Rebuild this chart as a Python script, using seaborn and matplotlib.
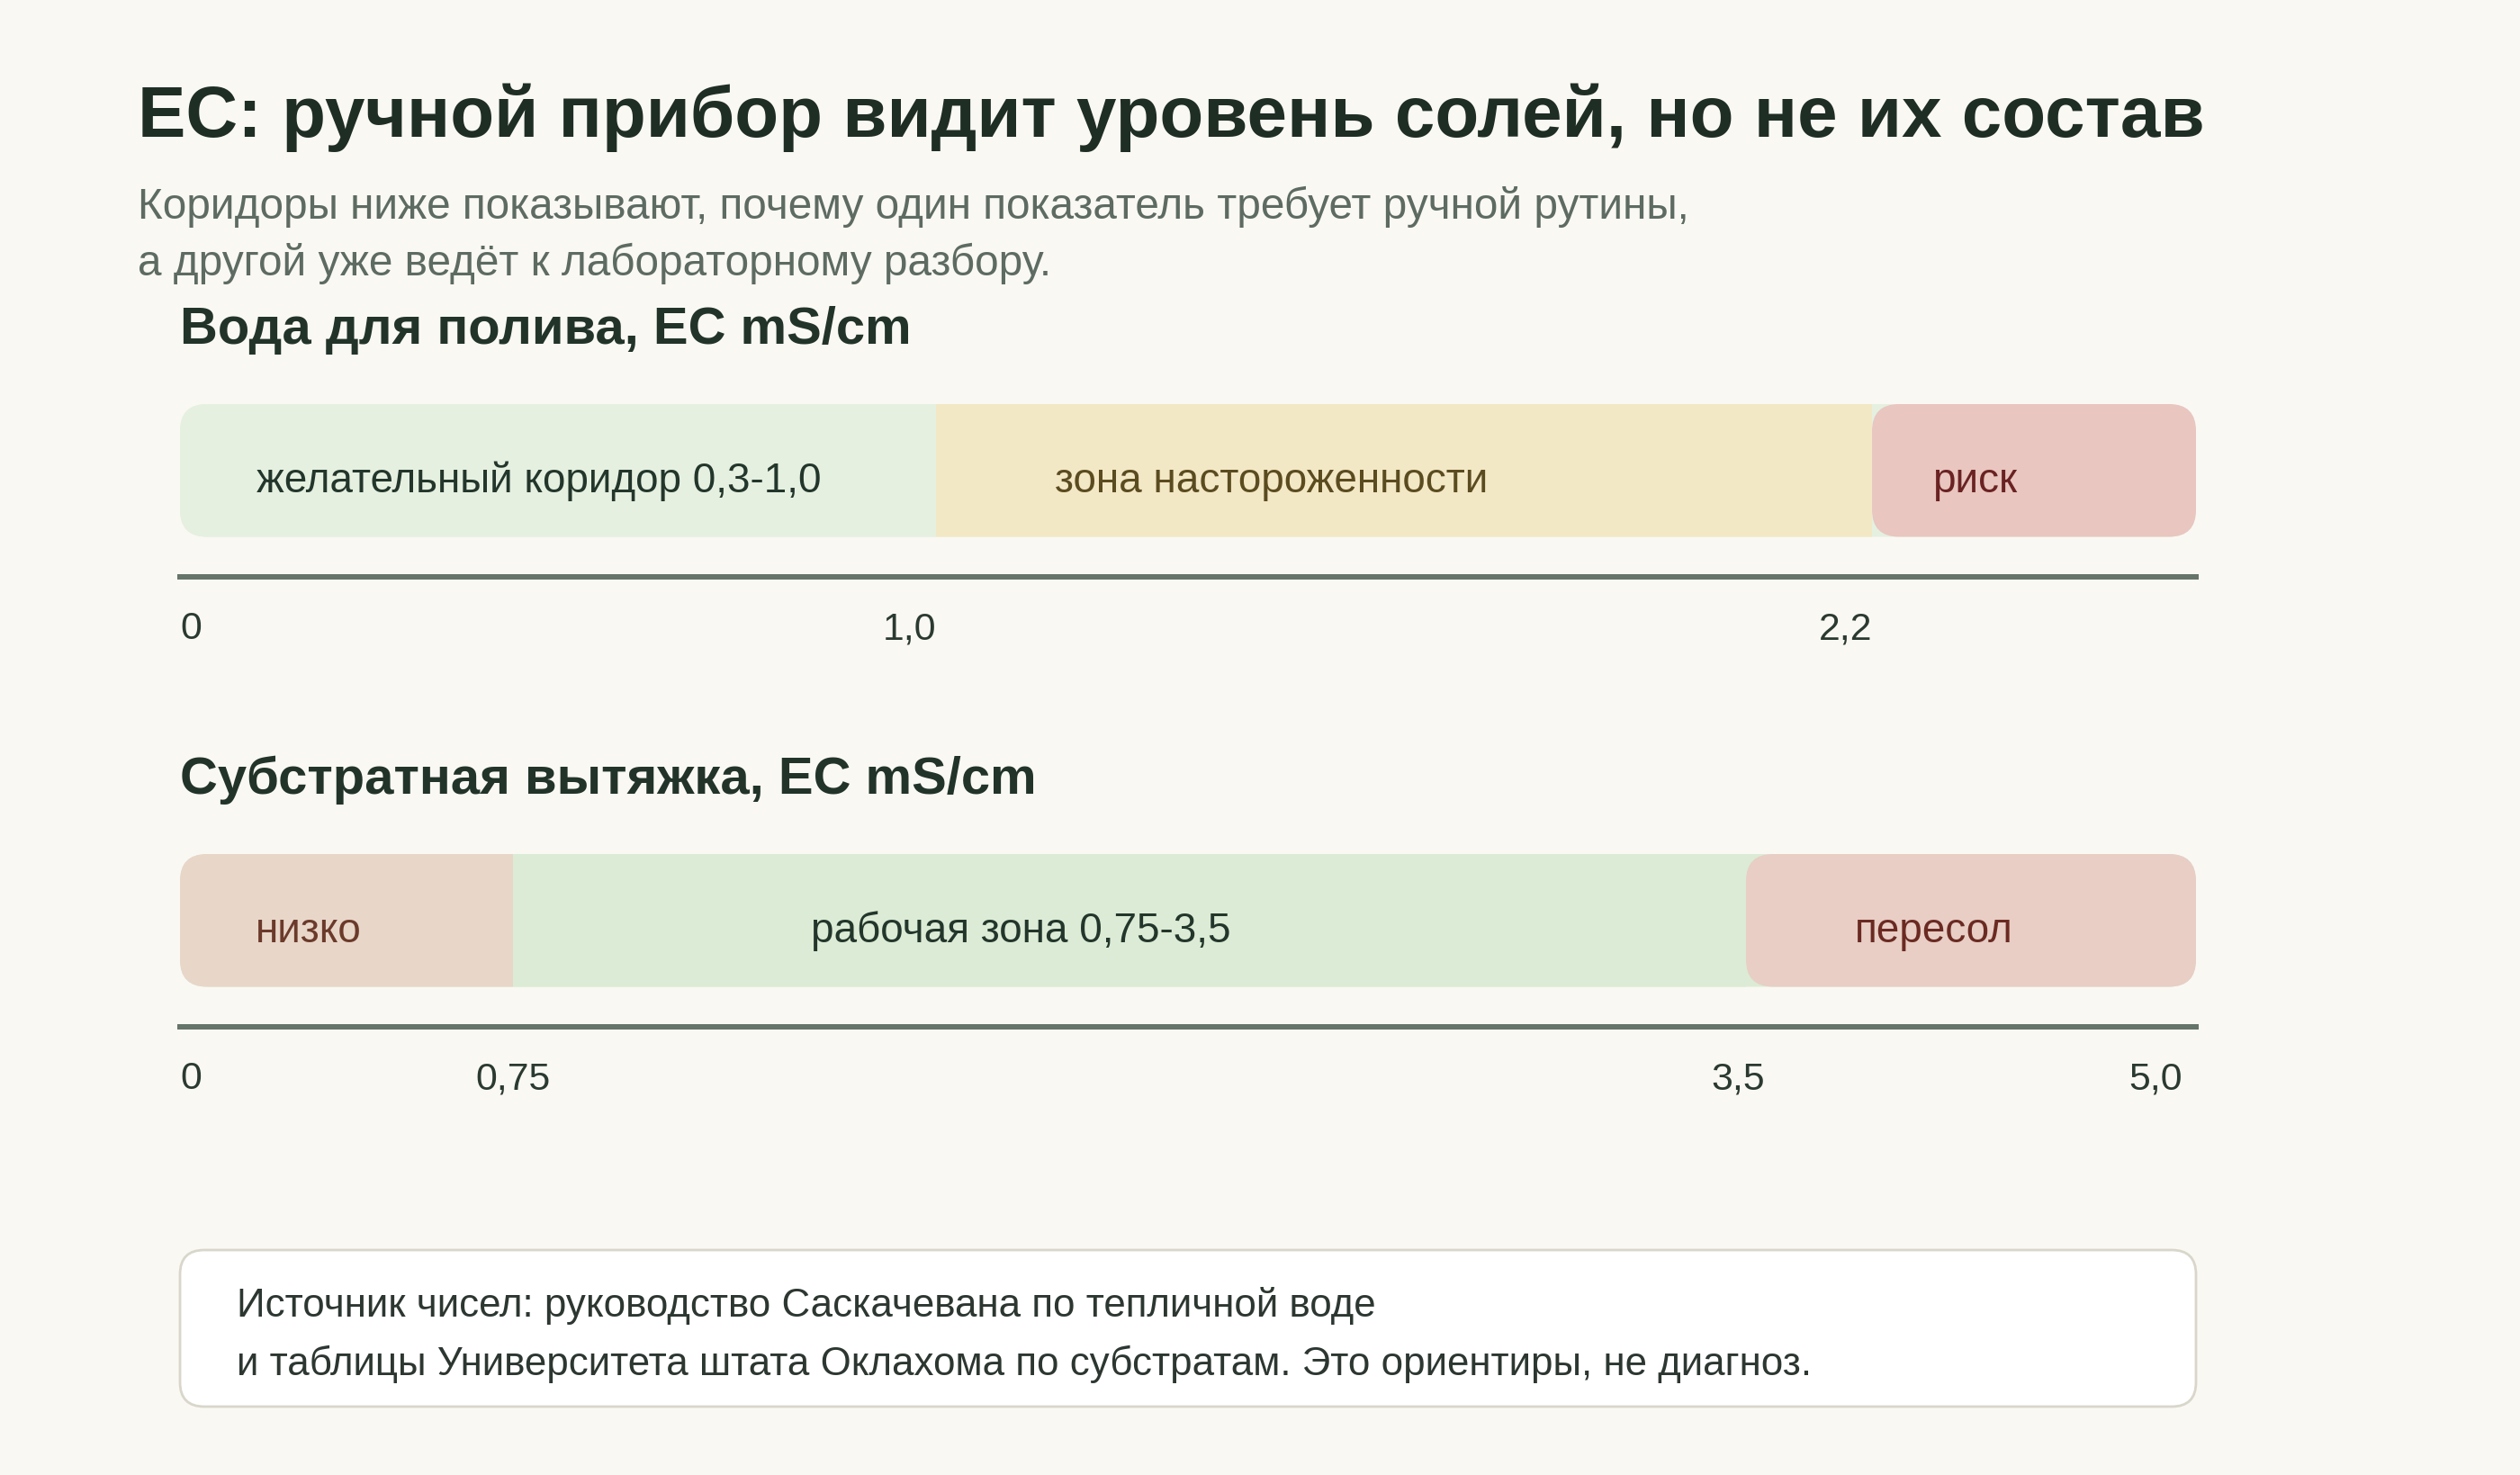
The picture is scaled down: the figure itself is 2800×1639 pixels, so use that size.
import numpy as np
import matplotlib
matplotlib.use("Agg")
import matplotlib.pyplot as plt
from matplotlib.patches import FancyBboxPatch
from matplotlib.transforms import blended_transform_factory, ScaledTranslation
import seaborn as sns

# Texts
title = "EC: ручной прибор видит уровень солей, но не их состав"
subtitle = ["Коридоры ниже показывают, почему один показатель требует ручной рутины,",
            "а другой уже ведёт к лабораторному разбору."]
note = ["Источник чисел: руководство Саскачевана по тепличной воде",
        "и таблицы Университета штата Оклахома по субстратам. Это ориентиры, не диагноз."]

# Panel 1 - irrigation water
water_title = "Вода для полива, EC mS/cm"
water_edges = [0, 1.0, 2.2, 2.6]
water_zones = ["желательный коридор 0,3-1,0", "зона настороженности", "риск"]
water_ticks = [0, 1.0, 2.2]
water_tick_labels = ["0", "1,0", "2,2"]

# Panel 2 - substrate extract
substrate_title = "Субстратная вытяжка, EC mS/cm"
substrate_edges = [0, 0.75, 3.5, 5.0]
substrate_zones = ["низко", "рабочая зона 0,75-3,5", "пересол"]
substrate_ticks = [0, 0.75, 3.5, 5.0]
substrate_tick_labels = ["0", "0,75", "3,5", "5,0"]

# Style
BG = "#faf8f3"
DARK = "#1f2e25"
W, H = 2800, 1640
BAR_H, GAP, RADIUS = 147.5, 44.5, 30
BAR_LEFT, BAR_W = 200, 2240

sns.set_theme(style="white", rc={"figure.facecolor": BG, "axes.facecolor": BG})
plt.rcParams["font.family"] = ["Liberation Sans", "DejaVu Sans"]


def fx(px):
    return px / W


def fy(py):
    return 1 - py / H


fig = plt.figure(figsize=(14, 8.2), dpi=200)

fig.text(fx(153), fy(151.7), title, fontsize=28.8, fontweight="bold", color=DARK, va="baseline")
for i, line in enumerate(subtitle):
    fig.text(fx(153), fy(242.7 + 63.3 * i), line, fontsize=17.2, color="#5d6b62", va="baseline")


def draw_panel(top, heading, edges, zones, ticks, tick_labels, fracs, colors,
               text_colors, track_color, offsets, tick_ha, tick_dx):
    fig.text(fx(200), fy(top - 67.7), heading, fontsize=20.9, fontweight="bold",
             color="#22342a", va="baseline")
    ax = fig.add_axes([fx(BAR_LEFT), fy(top + BAR_H + GAP), BAR_W / W, (BAR_H + GAP) / H])
    ax.set_facecolor("none")
    # corridors are drawn on a piecewise scale, not proportional to EC
    fwd = lambda v: np.interp(v, edges, fracs)
    inv = lambda f: np.interp(f, fracs, edges)
    ax.set_xscale("function", functions=(fwd, inv))
    ax.set_xlim(edges[0], edges[-1])
    ax.set_ylim(-GAP / BAR_H, 1)

    trans = blended_transform_factory(ax.transAxes, ax.transData)
    track = FancyBboxPatch((0, 0), 1, 1, boxstyle=f"round,pad=0,rounding_size={RADIUS / BAR_W}",
                           mutation_aspect=BAR_W / BAR_H, transform=trans,
                           facecolor=track_color, edgecolor="none")
    ax.add_patch(track)

    for i in range(len(zones) - 1):
        bars = ax.barh(0.5, edges[i + 1] - edges[i], left=edges[i], height=1,
                       color=colors[i], linewidth=0)
        for p in bars:
            p.set_clip_path(track)

    # last zone is its own rounded pill
    sx = (fracs[-1] - fracs[-2]) * BAR_W / (edges[-1] - edges[-2])
    last = FancyBboxPatch((edges[-2], 0), edges[-1] - edges[-2], 1,
                          boxstyle=f"round,pad=0,rounding_size={RADIUS / sx}",
                          mutation_aspect=sx / BAR_H, transform=ax.transData,
                          facecolor=colors[-1], edgecolor="none")
    ax.add_patch(last)

    for i, zone in enumerate(zones):
        ax.annotate(zone, xy=(edges[i], 0.345), xytext=(offsets[i] * 72 / 200, 0),
                    textcoords="offset points", ha="left", va="baseline",
                    fontsize=16.5, color=text_colors[i])

    ax.set_xticks(ticks)
    ax.set_xticklabels(tick_labels)
    ax.tick_params(axis="x", length=0, pad=13.5, labelsize=15.4, labelcolor="#2b3a31")
    for lbl, ha, dx in zip(ax.get_xticklabels(), tick_ha, tick_dx):
        lbl.set_ha(ha)
        if dx:
            lbl.set_transform(lbl.get_transform() + ScaledTranslation(dx / 200, 0, fig.dpi_scale_trans))
    ax.set_yticks([])
    for s in ["top", "left", "right"]:
        ax.spines[s].set_visible(False)
    ax.spines["bottom"].set_linewidth(6 * 72 / 200)
    ax.spines["bottom"].set_color("#66756a")
    ax.grid(False)
    return ax


draw_panel(450, water_title, water_edges, water_zones, water_ticks, water_tick_labels,
           fracs=[0, 0.375, 0.8393, 1],
           colors=["#e5f0e0", "#f3e8c5", "#e9c6c0"],
           text_colors=["#23362b", "#5b4b20", "#6a2222"],
           track_color="#e5f0e0",
           offsets=[85, 131.7, 66.7],
           tick_ha=["left", "right", "right"],
           tick_dx=[0, 0, 0])

draw_panel(950, substrate_title, substrate_edges, substrate_zones, substrate_ticks,
           substrate_tick_labels,
           fracs=[0, 0.1652, 0.7768, 1],
           colors=["#e8d6c9", "#dcebd5", "#e8cec5"],
           text_colors=["#6b3a2a", "#23362b", "#6a2a22"],
           track_color="#dcebd5",
           offsets=[83.6, 331, 120.6],
           tick_ha=["left", "center", "center", "right"],
           tick_dx=[0, 0, -9, -15])

# source note
box = FancyBboxPatch((fx(200), fy(1564)), 2240 / W, (1564 - 1390) / H,
                     boxstyle=f"round,pad=0,rounding_size={27 / W}",
                     mutation_aspect=W / H, transform=fig.transFigure,
                     facecolor="white", edgecolor="#d9d6cb", linewidth=1.0)
fig.add_artist(box)
for i, line in enumerate(note):
    fig.text(fx(262.7), fy(1463.3 + 65 * i), line, fontsize=15.8, color="#2d3731", va="baseline")

fig.savefig("out.png", dpi=200, facecolor=BG)
